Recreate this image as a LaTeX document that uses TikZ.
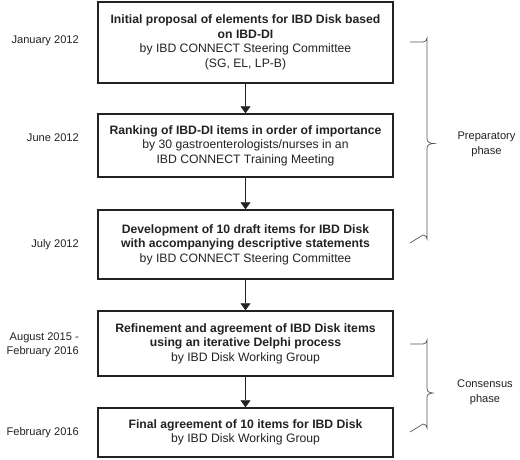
\documentclass[tikz,border=0pt]{standalone}
\usepackage{fontspec}
\setmainfont{Liberation Sans}
\usetikzlibrary{arrows.meta}
\definecolor{ink}{HTML}{222222}
\definecolor{bracec}{HTML}{555555}
\begin{document}
\begin{tikzpicture}[x=1pt,y=-1pt,
  stagebox/.style={draw=ink,line width=1.4pt,text=ink,align=center,minimum width=295pt,inner sep=0pt,font=\fontsize{12.2}{14.5}\selectfont},
  datelabel/.style={anchor=east,align=right,text=ink,inner sep=0pt,font=\fontsize{11.1}{14}\selectfont},
  phaselabel/.style={align=center,text=ink,inner sep=0pt,font=\fontsize{11.1}{15}\selectfont},
  flow/.style={draw=ink,line width=0.7pt,-{Triangle[width=10pt,length=7pt]}},
  bracket/.style={draw=bracec,line width=0.7pt}]
\useasboundingbox (0,0) rectangle (520,459);
\node[stagebox,minimum height=81pt] (b1) at (245.5,42.5) {\textbf{Initial proposal of elements for IBD Disk based}\\\textbf{on IBD-DI}\\by IBD CONNECT Steering Committee\\(SG, EL, LP-B)};
\node[stagebox,minimum height=63pt] (b2) at (245.5,145.5) {\textbf{Ranking of IBD-DI items in order of importance}\\by 30 gastroenterologists/nurses in an\\IBD CONNECT Training Meeting};
\node[stagebox,minimum height=69pt] (b3) at (245.5,244.5) {\textbf{Development of 10 draft items for IBD Disk}\\\textbf{with accompanying descriptive statements}\\by IBD CONNECT Steering Committee};
\node[stagebox,minimum height=65pt] (b4) at (245.5,343.5) {\textbf{Refinement and agreement of IBD Disk items}\\\textbf{using an iterative Delphi process}\\by IBD Disk Working Group};
\node[stagebox,minimum height=49pt] (b5) at (245.5,432.5) {\textbf{Final agreement of 10 items for IBD Disk}\\by IBD Disk Working Group};
\draw[flow] (b1) -- (b2);
\draw[flow] (b2) -- (b3);
\draw[flow] (b3) -- (b4);
\draw[flow] (b4) -- (b5);
\node[datelabel] (d1) at (79,41) {January 2012};
\node[datelabel] (d2) at (79,138) {June 2012};
\node[datelabel] (d3) at (79,245) {July 2012};
\node[datelabel] (d4) at (79,345) {August 2015 -\\February 2016};
\node[datelabel] (d5) at (79,433) {February 2016};
\draw[bracket] (410,42) -- (423,42) arc[start angle=90,end angle=0,radius=4] -- (427,139) .. controls (427,142) and (430,143.5) .. (434,143.5) .. controls (430,143.5) and (427,145) .. (427,148) -- (427,239) arc[start angle=0,end angle=-90,radius=4] -- (410,243);
\draw[bracket] (410,344) -- (423,344) arc[start angle=90,end angle=0,radius=4] -- (427,389) .. controls (427,392) and (430,393) .. (434,393) .. controls (430,393) and (427,394) .. (427,397) -- (427,428) arc[start angle=0,end angle=-90,radius=4] -- (410,432);
\node[phaselabel] (p1) at (486.5,144.5) {Preparatory\\phase};
\node[phaselabel] (p2) at (485,392.5) {Consensus\\phase};
\end{tikzpicture}
\end{document}
